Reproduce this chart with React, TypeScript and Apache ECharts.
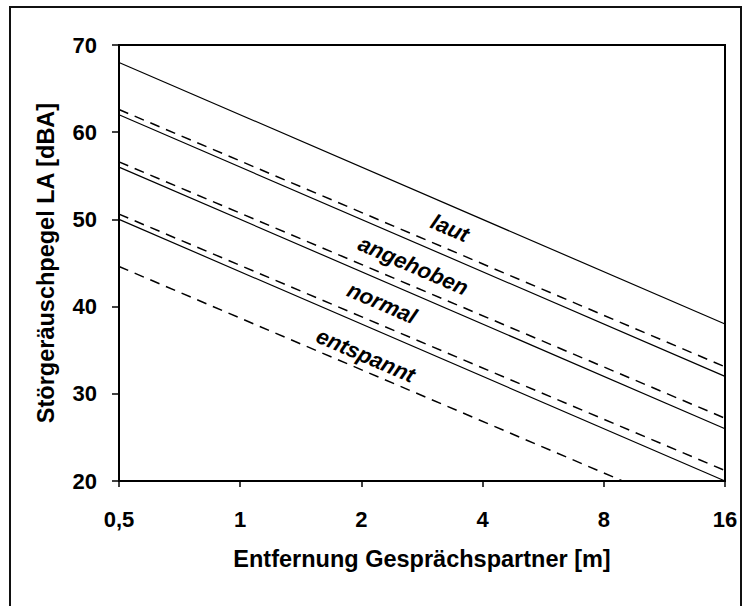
import React, { useEffect, useRef } from "react";
import * as echarts from "echarts";

// Distance to the conversation partner [m] (log2 axis)
const distances = [0.5, 16];

// Vocal effort levels
const levels = ["laut", "angehoben", "normal", "entspannt"];

// Noise level LA [dBA] at 0.5 m and 16 m, solid curves
const solidStart = [68, 62, 56, 50];
const solidEnd = [38, 32, 26, 20];

// Noise level LA [dBA] at 0.5 m and 16 m, dashed curves
const dashedStart = [62.6, 56.6, 50.6, 44.6];
const dashedEnd = [33.1, 27.2, 21.2, 15.0];

// Where each level's label sits, in data coordinates
const labelDistance = [3.32, 2.69, 2.25, 2.05];
const labelLevel = [49.0, 44.7, 40.4, 34.4];

const FONT = '"Liberation Sans", Arial, Helvetica, sans-serif';

export default function App() {
  const ref = useRef<HTMLDivElement>(null);

  useEffect(() => {
    if (!ref.current) return;
    const chart = echarts.init(ref.current, undefined, { renderer: "svg" });

    const series: any[] = [];
    levels.forEach((lvl, i) => {
      series.push({
        name: lvl + " (solid)",
        type: "line",
        data: distances.map((d, k) => [d, k === 0 ? solidStart[i] : solidEnd[i]]),
        showSymbol: false,
        symbol: "none",
        clip: true,
        lineStyle: { color: "#000", width: 1.2, type: "solid" },
        z: 3,
      });
      series.push({
        name: lvl + " (dashed)",
        type: "line",
        data: distances.map((d, k) => [d, k === 0 ? dashedStart[i] : dashedEnd[i]]),
        showSymbol: false,
        symbol: "none",
        clip: true,
        lineStyle: { color: "#000", width: 1.5, type: [10, 7] },
        z: 3,
      });
    });

    chart.setOption({
      animation: false,
      backgroundColor: "#fff",
      textStyle: { fontFamily: FONT },
      grid: {
        left: 119,
        top: 45,
        right: 17,
        bottom: 125,
        show: true,
        borderColor: "#000",
        borderWidth: 2,
        backgroundColor: "transparent",
      },
      xAxis: {
        type: "log",
        logBase: 2,
        min: 0.5,
        max: 16,
        splitNumber: 5,
        name: "Entfernung Gesprächspartner [m]",
        nameLocation: "middle",
        nameGap: 66,
        nameTextStyle: { fontFamily: FONT, fontWeight: "bold", fontSize: 23.5, color: "#000" },
        axisLine: { show: true, lineStyle: { color: "#000", width: 2 } },
        axisTick: { show: true, inside: false, length: 6, lineStyle: { color: "#000", width: 1.5 } },
        splitLine: { show: false },
        minorTick: { show: false },
        axisLabel: {
          margin: 27,
          fontFamily: FONT,
          fontWeight: "bold",
          fontSize: 22,
          color: "#000",
          formatter: (v: number) => String(Math.round(v * 1000) / 1000).replace(".", ","),
        },
      },
      yAxis: {
        type: "value",
        min: 20,
        max: 70,
        interval: 10,
        name: "Störgeräuschpegel LA [dBA]",
        nameLocation: "middle",
        nameGap: 61,
        nameTextStyle: { fontFamily: FONT, fontWeight: "bold", fontSize: 23.5, color: "#000" },
        axisLine: { show: true, lineStyle: { color: "#000", width: 2 } },
        axisTick: { show: true, inside: false, length: 7, lineStyle: { color: "#000", width: 1.5 } },
        splitLine: { show: false },
        axisLabel: {
          margin: 22,
          fontFamily: FONT,
          fontWeight: "bold",
          fontSize: 22,
          color: "#000",
        },
      },
      series,
    });

    // Labels placed along the lines, rotated to the lines' slope
    const p1 = chart.convertToPixel({ gridIndex: 0 }, [distances[0], solidStart[0]]) as number[];
    const p2 = chart.convertToPixel({ gridIndex: 0 }, [distances[1], solidEnd[0]]) as number[];
    const angle = Math.atan2(p2[1] - p1[1], p2[0] - p1[0]);

    const labelGraphics = levels.map((lvl, i) => {
      const p = chart.convertToPixel({ gridIndex: 0 }, [labelDistance[i], labelLevel[i]]) as number[];
      return {
        type: "text",
        x: p[0],
        y: p[1],
        rotation: -angle,
        z: 10,
        style: {
          text: lvl,
          fontFamily: FONT,
          fontWeight: "bold",
          fontStyle: "italic",
          fontSize: 22,
          fill: "#000",
          align: "center",
          verticalAlign: "middle",
        },
      };
    });

    chart.setOption({
      graphic: [
        {
          type: "rect",
          shape: { x: 10, y: 7, width: 731, height: 640 },
          style: { fill: "none", stroke: "#111", lineWidth: 2 },
          silent: true,
          z: 0,
        },
        ...labelGraphics,
      ],
    });

    return () => chart.dispose();
  }, []);

  return (
    <div
      ref={ref}
      style={{ position: "fixed", left: 0, top: 0, width: 742, height: 606, background: "#fff" }}
    />
  );
}
